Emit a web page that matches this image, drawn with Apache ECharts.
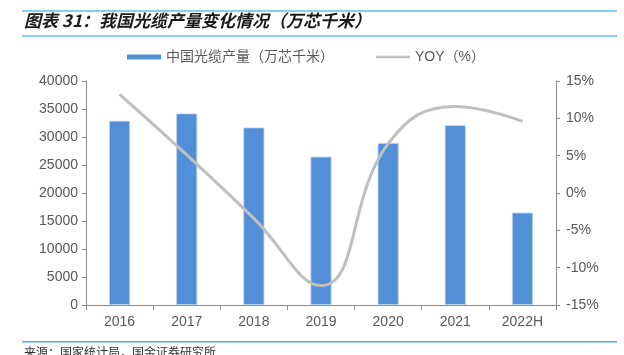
<!DOCTYPE html>
<html>
<head>
<meta charset="utf-8">
<script src="https://cdn.jsdelivr.net/npm/echarts@6/dist/echarts.min.js"></script>
<style>
  html, body { margin: 0; padding: 0; background: #fff; }
  #chart { width: 624px; height: 355px; }
</style>
</head>
<body>
<div id="chart"></div>
<script>
const years = ['2016', '2017', '2018', '2019', '2020', '2021', '2022H']
// 中国光缆产量（万芯千米）
const output = [32900, 34200, 31700, 26500, 28900, 32100, 16500]
// YOY（%）
const yoy = [13.2, 5.1, -3.4, -12.4, 6.6, 11.6, 9.6]

const barName = '中国光缆产量（万芯千米）'
const lineName = 'YOY（%）'
const titleText = '图表 31：我国光缆产量变化情况（万芯千米）'
const sourceText = '来源：国家统计局，国金证券研究所'

const axisColor = '#8c8c8c'
const labelColor = '#595959'
const fontFamily = '"Liberation Sans", "Noto Sans CJK SC", sans-serif'
const legendText = { color: labelColor, fontSize: 14, fontFamily }

const chart = echarts.init(document.getElementById('chart'))

chart.setOption({
  animation: false,
  textStyle: { fontFamily },
  graphic: [
    { type: 'rect', shape: { x: 22, y: 10, width: 595, height: 2 }, style: { fill: '#86d0f2' } },
    { type: 'rect', shape: { x: 22, y: 35, width: 595, height: 2 }, style: { fill: '#86d0f2' } },
    {
      type: 'text', left: 24, top: 12,
      style: {
        text: titleText,
        font: 'italic bold 17px "Noto Sans CJK SC", sans-serif',
        fill: '#1a1a1a'
      }
    },
    { type: 'rect', shape: { x: 22, y: 341, width: 595, height: 1.5 }, style: { fill: '#3cb4e8' } },
    {
      type: 'text', left: 24, top: 346,
      style: { text: sourceText, font: '12px "Noto Sans CJK SC", sans-serif', fill: '#333' }
    }
  ],
  legend: [
    {
      top: 45,
      left: 122,
      itemWidth: 34,
      itemHeight: 5,
      itemStyle: { borderWidth: 0 },
      textStyle: legendText,
      data: [{ name: barName, icon: 'rect' }]
    },
    {
      top: 45,
      left: 371,
      itemWidth: 34,
      itemHeight: 2.5,
      textStyle: legendText,
      data: [{ name: lineName, icon: 'rect' }]
    }
  ],
  grid: { left: 86, right: 68, top: 81, bottom: 50 },
  xAxis: {
    type: 'category',
    data: years,
    axisLine: { lineStyle: { color: axisColor } },
    axisTick: { show: true, length: 5, lineStyle: { color: axisColor } },
    axisLabel: { color: labelColor, fontSize: 14, margin: 10 }
  },
  yAxis: [
    {
      type: 'value',
      min: 0,
      max: 40000,
      interval: 5000,
      axisLine: { show: true, lineStyle: { color: axisColor } },
      axisTick: { show: true, length: 4, lineStyle: { color: axisColor } },
      splitLine: { show: false },
      axisLabel: { color: labelColor, fontSize: 14, margin: 8, formatter: v => String(v) }
    },
    {
      type: 'value',
      min: -15,
      max: 15,
      interval: 5,
      position: 'right',
      axisLine: { show: true, lineStyle: { color: axisColor } },
      axisTick: { show: true, length: 4, lineStyle: { color: axisColor } },
      splitLine: { show: false },
      axisLabel: { color: labelColor, fontSize: 14, margin: 10, formatter: '{value}%' }
    }
  ],
  series: [
    {
      name: barName,
      type: 'bar',
      data: output,
      barWidth: 21,
      itemStyle: { color: '#528fd6', borderColor: '#b9d3f0', borderWidth: 0.8 }
    },
    {
      name: lineName,
      type: 'line',
      yAxisIndex: 1,
      data: yoy,
      smooth: 0.45,
      symbol: 'none',
      lineStyle: { color: '#bfbfbf', width: 3 },
      itemStyle: { color: '#bfbfbf' }
    }
  ]
})
</script>
</body>
</html>
